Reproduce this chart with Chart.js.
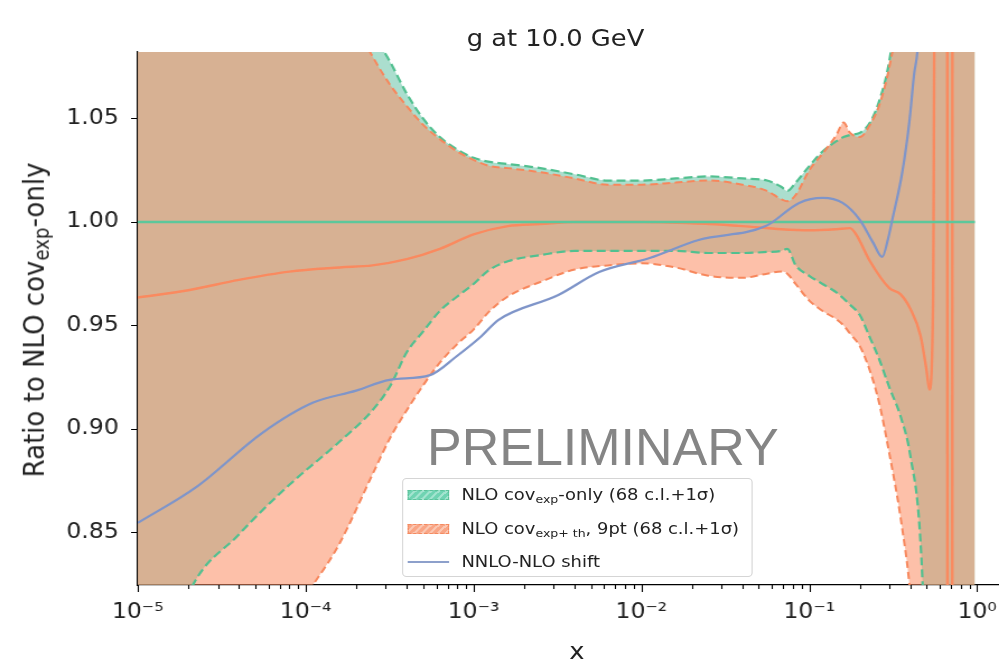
<!DOCTYPE html>
<html><head><meta charset="utf-8">
<script src="https://cdn.jsdelivr.net/npm/chart.js@4.4.0/dist/chart.umd.min.js"></script>
<style>
html,body{margin:0;padding:0;background:#fff;}
#wrap{position:relative;width:999px;height:663px;overflow:hidden;font-family:"DejaVu Sans",sans-serif;color:#222;}
#stretch{position:absolute;left:0;top:0;width:892px;height:663px;transform:scaleX(1.12);transform-origin:0 0;}
#c{position:absolute;left:0;top:0;}
.ov{position:absolute;white-space:nowrap;}
#title{left:496px;top:24px;font-size:23px;line-height:28px;transform:translateX(-50%);}
#xlab{left:515px;top:637px;font-size:23px;line-height:28px;transform:translateX(-50%);}
#ylab{left:29.5px;top:320px;font-size:26px;line-height:30px;transform:translate(-50%,-50%) rotate(-90deg);}
#prelim{left:427px;top:421px;font-family:"Liberation Sans",Arial,sans-serif;font-size:52px;line-height:52px;color:#858585;}
#legend{left:359px;top:478px;width:313px;height:99px;box-sizing:border-box;border:1px solid #d5d5d5;border-radius:4px;background:rgba(255,255,255,0.85);}
.row{position:absolute;left:0;height:20px;font-size:16px;line-height:20px;}
.sw{position:absolute;left:4px;width:37px;height:10px;top:5px;}
.tx{position:absolute;left:52px;top:0;}
sub{font-size:70%;vertical-align:-0.25em;line-height:0;}
</style></head><body>
<div id="wrap">
<div id="stretch">
<canvas id="c" width="912" height="663" style="width:912px;height:663px"></canvas>
<div class="ov" id="title">g at 10.0 GeV</div>
<div class="ov" id="xlab">x</div>
<div class="ov" id="ylab">Ratio to NLO cov<sub>exp</sub>-only</div>
<div class="ov" id="legend">
  <div class="row" style="top:6px"><div class="sw" style="background:repeating-linear-gradient(135deg,#6fd3b2 0 3px,#a3e4cf 3px 5px);border:1px dashed #5cc29a;box-sizing:border-box"></div><div class="tx">NLO cov<sub>exp</sub>-only (68 c.l.+1σ)</div></div>
  <div class="row" style="top:40px"><div class="sw" style="background:repeating-linear-gradient(135deg,#f9a585 0 3px,#fbc7b2 3px 5px);border:1px dashed #f48a60;box-sizing:border-box"></div><div class="tx">NLO cov<sub>exp+ th</sub>, 9pt (68 c.l.+1σ)</div></div>
  <div class="row" style="top:73px"><div class="sw" style="height:0;top:9px;border-top:2px solid #8da0cb"></div><div class="tx">NNLO-NLO shift</div></div>
</div>
</div>
<div class="ov" id="prelim">PRELIMINARY</div>
</div>
<script>
// ---- data ----
const bandX = [1e-5,2e-5,4e-5,8e-5,1.6e-4,2.5e-4,3.2e-4,4e-4,5e-4,6.3e-4,8e-4,1e-3,1.25e-3,1.6e-3,2.5e-3,4e-3,6.3e-3,1e-2,1.6e-2,2.5e-2,4e-2,5.6e-2,6.8e-2,7.4e-2,8.3e-2,0.1,0.12,0.145,0.16,0.175,0.2,0.23,0.26,0.3,0.35,0.4,0.46,0.5,0.56,0.63,0.79,0.97];
const greenUpper = [1.40,1.33,1.26,1.19,1.13,1.092,1.077,1.062,1.050,1.041,1.035,1.031,1.029,1.028,1.026,1.023,1.020,1.020,1.021,1.022,1.021,1.020,1.017,1.015,1.019,1.027,1.034,1.039,1.041,1.042,1.043,1.048,1.058,1.078,1.12,1.2,1.35,1.5,1.6,1.6,1.6,1.6];
const greenLower = [0.74,0.820,0.849,0.873,0.894,0.909,0.921,0.937,0.947,0.957,0.964,0.970,0.977,0.981,0.984,0.986,0.986,0.986,0.986,0.985,0.985,0.9855,0.986,0.987,0.979,0.974,0.970,0.966,0.963,0.960,0.955,0.944,0.934,0.920,0.906,0.887,0.845,0.77,0.6,0.5,0.5,0.5];
const orangeUpper = [1.38,1.30,1.23,1.16,1.11,1.080,1.066,1.056,1.047,1.040,1.034,1.030,1.027,1.026,1.024,1.021,1.018,1.018,1.019,1.020,1.018,1.015,1.011,1.010,1.013,1.025,1.033,1.042,1.048,1.043,1.041,1.047,1.056,1.075,1.11,1.18,1.35,1.5,1.6,1.6,1.6,1.6];
const orangeLower = [0.60,0.68,0.74,0.805,0.845,0.878,0.896,0.909,0.921,0.932,0.941,0.948,0.957,0.964,0.971,0.977,0.979,0.980,0.978,0.974,0.973,0.975,0.976,0.975,0.970,0.962,0.957,0.953,0.950,0.946,0.940,0.928,0.913,0.888,0.857,0.82,0.75,0.6,0.5,0.5,0.5,0.5];
const orangeCentralX = [1e-5,2e-5,4e-5,8e-5,1.6e-4,2.5e-4,4e-4,6.3e-4,1e-3,1.6e-3,2.5e-3,4e-3,1e-2,2.5e-2,4e-2,6.8e-2,0.1,0.145,0.175,0.19,0.23,0.3,0.35,0.4,0.46,0.5,0.519,0.546,0.57,0.662,0.667,0.71,0.713,0.97];
const orangeCentral = [0.9635,0.967,0.972,0.976,0.978,0.979,0.982,0.987,0.994,0.998,0.999,1.000,1.000,0.999,0.998,0.9965,0.996,0.9965,0.997,0.994,0.981,0.968,0.965,0.958,0.945,0.928,0.919,0.96,1.3,1.3,0.55,0.55,1.3,1.3];
const refX = [1e-5,0.97];
const refCentral = [1.0,1.0];
const shiftX = [1e-5,2.24e-5,5.5e-5,1.1e-4,2e-4,3.16e-4,5.5e-4,7.9e-4,1.1e-3,1.41e-3,3.2e-3,5.6e-3,1.12e-2,2.19e-2,5.5e-2,8.7e-2,0.12,0.158,0.2,0.24,0.272,0.295,0.312,0.358,0.394,0.422,0.44,0.468];
const shift = [0.8546,0.872,0.898,0.9126,0.9185,0.9237,0.926,0.935,0.9444,0.9527,0.9647,0.9758,0.9826,0.9913,0.998,1.0092,1.0116,1.0092,1.001,0.990,0.9831,0.992,1.001,1.024,1.048,1.072,1.082,1.12];
const xTickValues = [1e-5,1e-4,1e-3,1e-2,1e-1,1];
const xTickLabels = ['10⁻⁵','10⁻⁴','10⁻³','10⁻²','10⁻¹','10⁰'];
const yTickValues = [0.85,0.90,0.95,1.00,1.05];

// ---- build ----
const pts = (xs, ys) => xs.map((x, i) => ({x, y: ys[i]}));
const line = (data, color, width, dash, order) => ({
  data, borderColor: color, borderWidth: width, borderDash: dash || [], pointRadius: 0,
  fill: false, cubicInterpolationMode: 'monotone', order
});
const datasets = [
  line(pts(shiftX, shift), '#7f95c9', 2.2, null, 0),
  line(pts(refX, refCentral), '#5cc79b', 2.6, null, 1),
  line(pts(orangeCentralX, orangeCentral), '#fa8a5f', 2.4, null, 2),
  line(pts(bandX, orangeUpper), '#f7875c', 2, [7, 4], 3),
  line(pts(bandX, orangeLower), '#f7875c', 2, [7, 4], 4),
  line(pts(bandX, greenUpper), '#52c090', 2.2, [8, 4], 5),
  line(pts(bandX, greenLower), '#52c090', 2.2, [8, 4], 6),
  {data: pts(bandX, orangeUpper), borderWidth: 0, pointRadius: 0, fill: false, cubicInterpolationMode: 'monotone', order: 7},
  {data: pts(bandX, orangeLower), borderWidth: 0, pointRadius: 0, fill: '-1', backgroundColor: 'rgba(252,141,98,0.55)', cubicInterpolationMode: 'monotone', order: 8},
  {data: pts(bandX, greenUpper), borderWidth: 0, pointRadius: 0, fill: false, cubicInterpolationMode: 'monotone', order: 9},
  {data: pts(bandX, greenLower), borderWidth: 0, pointRadius: 0, fill: '-1', backgroundColor: 'rgba(102,194,165,0.55)', cubicInterpolationMode: 'monotone', order: 10}
];

const axisTicks = {
  id: 'axisTicks',
  afterDraw(chart) {
    const {ctx, chartArea: a, scales: {x, y}} = chart;
    ctx.save();
    ctx.strokeStyle = '#000';
    ctx.lineWidth = 1.1;
    ctx.beginPath();
    for (let e = -5; e <= 0; e++) {
      for (let m = 1; m <= 9; m++) {
        const v = m * Math.pow(10, e);
        if (v > x.max) break;
        const px = Math.round(x.getPixelForValue(v)) + 0.5;
        const len = m === 1 ? 7 : 4;
        ctx.moveTo(px, a.bottom); ctx.lineTo(px, a.bottom + len);
      }
    }
    yTickValues.forEach(v => {
      const py = Math.round(y.getPixelForValue(v)) + 0.5;
      ctx.moveTo(a.left - 6, py); ctx.lineTo(a.left, py);
    });
    ctx.stroke();
    ctx.restore();
  }
};

new Chart(document.getElementById('c'), {
  type: 'line',
  data: {datasets},
  options: {
    responsive: false, animation: false, devicePixelRatio: 1,
    layout: {padding: {left: 0, right: 5, top: 52, bottom: 0}},
    plugins: {legend: {display: false}, tooltip: {enabled: false}, filler: {drawTime: 'beforeDatasetsDraw'}},
    scales: {
      x: {
        type: 'logarithmic', min: 1e-5, max: 1.7,
        afterBuildTicks: s => { s.ticks = xTickValues.map(v => ({value: v})); },
        afterFit: s => { s.height = 78; },
        grid: {drawOnChartArea: false, drawTicks: true, tickLength: 7, tickColor: 'rgba(0,0,0,0)'},
        border: {display: true, color: '#000', width: 1.2},
        ticks: {autoSkip: false, maxRotation: 0, padding: 8, color: '#222',
          font: {family: 'DejaVu Sans', size: 21},
          callback: (v, i) => xTickLabels[i]}
      },
      y: {
        type: 'linear', min: 0.8246, max: 1.0821,
        afterBuildTicks: s => { s.ticks = yTickValues.map(v => ({value: v})); },
        afterFit: s => { s.width = 123; },
        grid: {drawOnChartArea: false, drawTicks: true, tickLength: 6, tickColor: 'rgba(0,0,0,0)'},
        border: {display: true, color: '#000', width: 1.2},
        ticks: {padding: 11, color: '#222', font: {family: 'DejaVu Sans', size: 21},
          callback: v => v.toFixed(2)}
      }
    }
  },
  plugins: [axisTicks]
});
</script>
</body></html>
